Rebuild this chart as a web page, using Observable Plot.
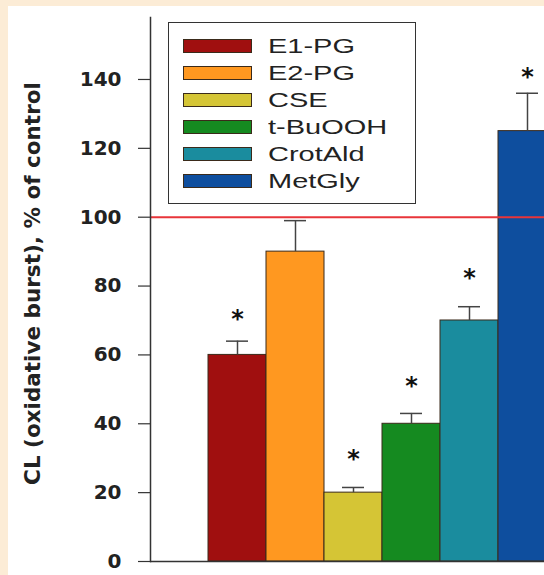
<!DOCTYPE html>
<html>
<head>
<meta charset="utf-8">
<script src="https://cdn.jsdelivr.net/npm/d3@7"></script>
<script src="https://cdn.jsdelivr.net/npm/@observablehq/plot@0.6"></script>
<style>
  html, body { margin: 0; padding: 0; background: #fcecd6; }
  #wrap { position: relative; width: 544px; height: 575px; overflow: hidden;
    background: linear-gradient(to right, #fcecd6 0 8px, transparent 8px), linear-gradient(#fcecd6 0 6px, #ffffff 6px); }
  #wrap svg { position: absolute; left: 0; top: 0; background: transparent; overflow: hidden; }
  #legend { position: absolute; left: 168px; top: 22px; width: 248px; height: 182px;
    border: 1.5px solid #333; background: #fff; box-sizing: border-box; padding-top: 9px; }
  .row { height: 27px; display: flex; align-items: center; }
  .sw { width: 69px; height: 14px; margin-left: 14px; border: 1px solid #3a2a1a; box-sizing: border-box; }
  .lb { margin-left: 16px; font: 21px "Liberation Sans", Arial, sans-serif; color: #222;
    display: inline-block; transform: scaleX(1.38); transform-origin: left center; white-space: nowrap; }
</style>
</head>
<body>
<div id="wrap"><div id="legend"></div></div>
<script>
const series = ["E1-PG", "E2-PG", "CSE", "t-BuOOH", "CrotAld", "MetGly"];
const values = [60, 90, 20, 40, 70, 125];
const errors = [4, 9, 1.5, 3, 4, 11];
const starSeries = ["E1-PG", "CSE", "t-BuOOH", "CrotAld", "MetGly"];
const starY = [72, 31.5, 52.5, 84, 142.5];
const colors = ["#a00f0f", "#ff9820", "#d5c535", "#158a20", "#1a8c9e", "#0e4e9e"];
const yTicks = [0, 20, 40, 60, 80, 100, 120, 140];
const controlLevel = [100];
const yLabel = "CL (oxidative burst), % of control";

const data = series.map((name, i) => ({name, value: values[i], err: errors[i]}));
const stars = starSeries.map((name, i) => ({name, y: starY[i]}));

const chart = Plot.plot({
  width: 544,
  height: 575,
  marginLeft: 150,
  marginRight: 0,
  marginTop: 17,
  marginBottom: 14,
  style: {background: "transparent"},
  x: {domain: series, range: [208, 556], paddingInner: 0, paddingOuter: 0, axis: null},
  y: {domain: [0, 158], axis: null},
  color: {domain: series, range: colors},
  marks: [
    Plot.barY(data, {x: "name", y: "value", fill: "name", stroke: "#3a2a1a", strokeWidth: 1}),
    Plot.ruleX(data, {x: "name", y1: "value", y2: d => d.value + d.err, stroke: "#444", strokeWidth: 1.5}),
    Plot.tickY(data, {x: "name", y: d => d.value + d.err, insetLeft: 18, insetRight: 18, stroke: "#444", strokeWidth: 1.5}),
    Plot.text(stars, {x: "name", y: "y", text: () => "*", fontSize: 24, fontWeight: "bold", fill: "#111",
      fontFamily: "DejaVu Sans", lineAnchor: "middle", dy: 6}),
    Plot.ruleY(controlLevel, {stroke: "#e8353a", strokeWidth: 2}),
    Plot.ruleY([0], {stroke: "#333", strokeWidth: 1.5}),
    Plot.frame({anchor: "left", stroke: "#333", strokeWidth: 1.5}),
    Plot.axisY({ticks: yTicks, tickSize: 12, tickPadding: 17, label: null, fontSize: 20,
      fontWeight: "bold", fontFamily: "DejaVu Sans", stroke: "#333", fill: "#222", strokeWidth: 1.2}),
    Plot.text([yLabel], {frameAnchor: "left", textAnchor: "middle", rotate: -90, dx: -117, dy: -6, fontSize: 21.5,
      fontWeight: "bold", fontFamily: "DejaVu Sans", fill: "#222", lineAnchor: "middle"})
  ]
});
document.getElementById("wrap").prepend(chart);

const legend = document.getElementById("legend");
series.forEach((s, i) => {
  const row = document.createElement("div");
  row.className = "row";
  const sw = document.createElement("div");
  sw.className = "sw";
  sw.style.background = colors[i];
  const lb = document.createElement("span");
  lb.className = "lb";
  lb.textContent = s;
  row.append(sw, lb);
  legend.append(row);
});
</script>
</body>
</html>
